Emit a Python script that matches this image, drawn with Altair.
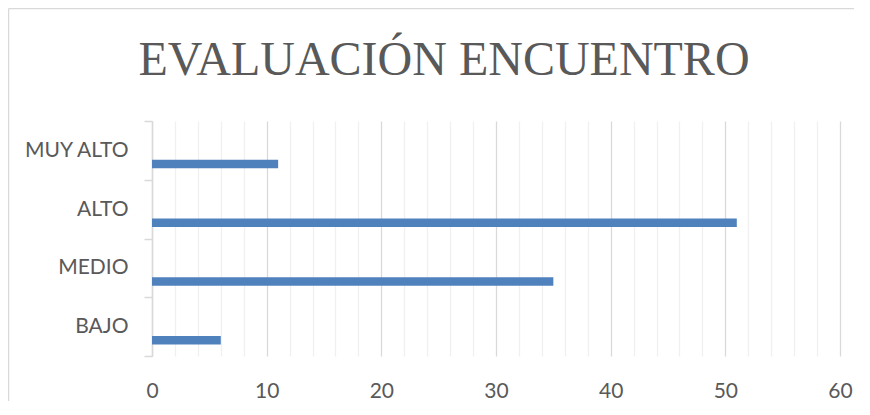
import altair as alt
import pandas as pd

categories = ["MUY ALTO", "ALTO", "MEDIO", "BAJO"]
values = [11, 51, 35, 6]
tick_values = list(range(0, 62, 2))

df = pd.DataFrame({"nivel": categories, "valor": values})

W, H = 688, 235

bars = alt.Chart(df).mark_bar(color="#4f81bd", height=8.5, yOffset=13.5).encode(
    x=alt.X(
        "valor:Q",
        scale=alt.Scale(domain=[0, 60], nice=False, zero=True),
        axis=alt.Axis(
            values=tick_values,
            labelExpr="datum.value % 10 === 0 ? datum.label : ''",
            labelFlush=False,
            grid=True,
            gridColor={"condition": {"test": "datum.value % 10 === 0", "value": "#d9d9d9"}, "value": "#f0f0f0"},
            gridWidth=1.3,
            domain=False,
            ticks=False,
            labelPadding=24,
            labelFont="Lato",
            labelFontSize=21,
            labelColor="#595959",
            title=None,
        ),
    ),
    y=alt.Y(
        "nivel:N",
        sort=categories,
        scale=alt.Scale(paddingInner=0, paddingOuter=0),
        axis=alt.Axis(
            title=None,
            domainColor="#d9d9d9",
            domainWidth=1.5,
            tickColor="#d9d9d9",
            tickWidth=1.5,
            tickSize=8,
            tickBand="extent",
            labelPadding=16,
            labelFont="Lato",
            labelFontSize=21,
            labelColor="#595959",
            grid=False,
        ),
    ),
)

one = pd.DataFrame({"a": [0]})
frame_top = alt.Chart(one).mark_rule(color="#d9d9d9", strokeWidth=1.5, clip=False).encode(
    x=alt.value(-143.5), x2=alt.value(W + 14), y=alt.value(-112.5)
)
frame_left = alt.Chart(one).mark_rule(color="#d9d9d9", strokeWidth=1.5, clip=False).encode(
    x=alt.value(-143.5), y=alt.value(-112.5), y2=alt.value(H + 45)
)

chart = alt.layer(frame_top, frame_left, bars).properties(
    width=W,
    height=H,
    autosize=alt.AutoSizeParams(type="none"),
    padding={"left": 144, "top": 113, "right": 14, "bottom": 45},
    title=alt.TitleParams(
        "EVALUACIÓN ENCUENTRO",
        font="Liberation Serif",
        fontSize=48,
        fontWeight="normal",
        color="#595959",
        anchor="middle",
        frame="group",
        baseline="alphabetic",
        offset=0,
        dy=115,
        dx=-52,
    ),
).configure_view(stroke=None)

chart.save("out.html", embed_options={"renderer": "svg", "actions": False})
